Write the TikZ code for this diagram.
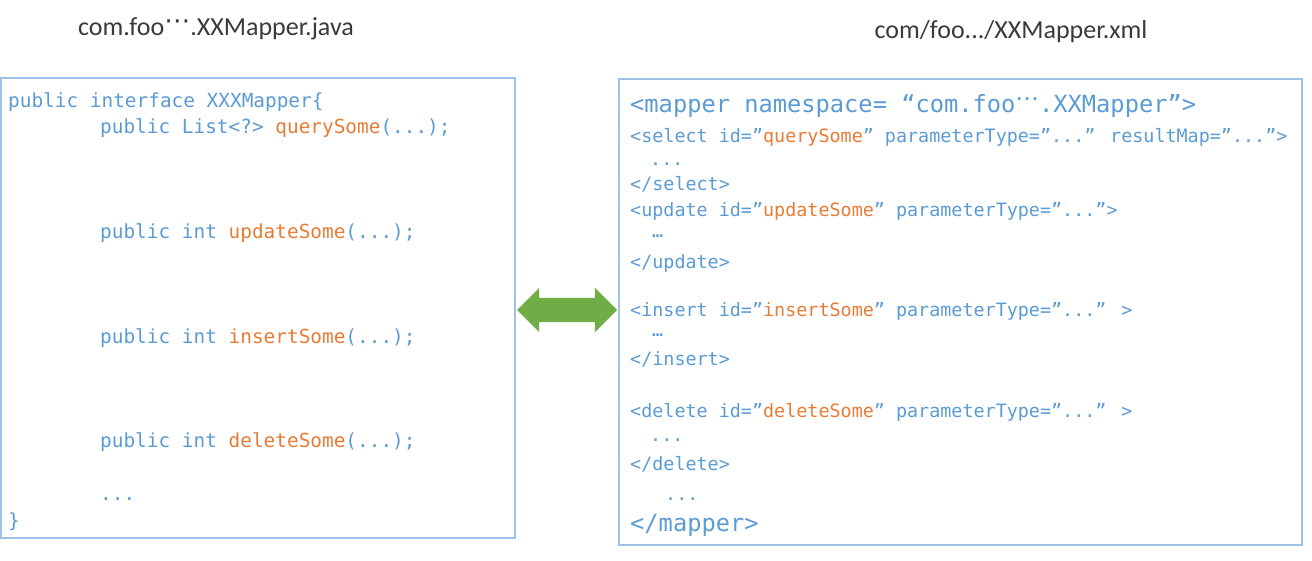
\documentclass[tikz,border=0pt]{standalone}
\usepackage{fontspec}
\setmainfont{Carlito}
\newfontfamily\codefont{DejaVu Sans Mono}
\newfontfamily\symfont{DejaVu Sans}
\usepackage{xcolor}
\usepackage{tikz}
\usetikzlibrary{shapes,arrows,positioning,calc}

\definecolor{codeblue}{HTML}{5B9BD5}
\definecolor{codeorange}{HTML}{E87B35}
\definecolor{boxblue}{HTML}{9DC3E6}
\definecolor{arrowgreen}{HTML}{70AD47}
\definecolor{titlegray}{HTML}{3A3A3A}
\newcommand{\hot}[1]{\textcolor{codeorange}{#1}}
\newcommand{\mdots}{{\symfont ⋯}}
\newcommand{\highdots}{\raisebox{0.22em}{\mdots}}

\tikzset{
  codebox/.style={draw=boxblue, line width=1.5pt, inner sep=0pt},
  filetitle/.style={anchor=base, inner sep=0pt, text=titlegray, font=\fontsize{26}{30}\selectfont},
  javaline/.style={anchor=base west, inner sep=0pt, text=codeblue, font=\codefont\fontsize{19.4}{22}\selectfont},
  xmlline/.style={anchor=base west, inner sep=0pt, text=codeblue, font=\codefont\fontsize{18.4}{22}\selectfont},
  xmlbig/.style={xmlline, font=\codefont\fontsize{23.7}{26}\selectfont}
}

\begin{document}
\begin{tikzpicture}[x=1pt, y=-1pt]
    \useasboundingbox (0,0) rectangle (1312,560);

    % the two files
    \node[codebox, minimum width=514pt, minimum height=460pt] (javabox) at (258,308) {};
    \node[codebox, minimum width=683pt, minimum height=466pt] (xmlbox) at (960.5,312) {};
    \node[filetitle] (javatitle) at (216,35) {com.foo\highdots.XXMapper.java};
    \node[filetitle] (xmltitle) at (1011,38) {com/foo.../XXMapper.xml};

    % java interface
    \node[javaline] (jhead) at (8,107) {public interface XXXMapper\{};
    \node[javaline] (jquery) at (100,133) {public List<?> \hot{querySome}(...);};
    \node[javaline] (jupdate) at (100,238) {public int \hot{updateSome}(...);};
    \node[javaline] (jinsert) at (100,343) {public int \hot{insertSome}(...);};
    \node[javaline] (jdelete) at (100,447) {public int \hot{deleteSome}(...);};
    \node[javaline] (jdots) at (100,500) {...};
    \node[javaline] (jend) at (8,527) {\}};

    % xml mapper
    \node[xmlbig] (xhead) at (630,112) {<mapper namespace= “com.foo\highdots.XXMapper”>};
    \node[xmlline] (xselect) at (630,142) {<select id=”\hot{querySome}” parameterType=”...” resultMap=”...”>};
    \node[xmlline] (xselbody) at (650,165) {...};
    \node[xmlline] (xselend) at (630,190) {</select>};
    \node[xmlline] (xupdate) at (630,216) {<update id=”\hot{updateSome}” parameterType=”...”>};
    \node[xmlline] (xupdbody) at (652,237) {…};
    \node[xmlline] (xupdend) at (630,268) {</update>};
    \node[xmlline] (xinsert) at (630,316) {<insert id=”\hot{insertSome}” parameterType=”...” >};
    \node[xmlline] (xinsbody) at (652,336) {…};
    \node[xmlline] (xinsend) at (630,365) {</insert>};
    \node[xmlline] (xdelete) at (630,417) {<delete id=”\hot{deleteSome}” parameterType=”...” >};
    \node[xmlline] (xdelbody) at (650,441) {...};
    \node[xmlline] (xdelend) at (630,470) {</delete>};
    \node[xmlline] (xmore) at (665,500) {...};
    \node[xmlbig] (xend) at (630,531) {</mapper>};

    % mapping between them
    \node[double arrow, fill=arrowgreen, draw=none, inner sep=12pt, minimum height=100pt,
          double arrow head extend=10pt] (link) at ($(javabox.east)!0.5!(xmlbox.west)$) {};
\end{tikzpicture}
\end{document}
